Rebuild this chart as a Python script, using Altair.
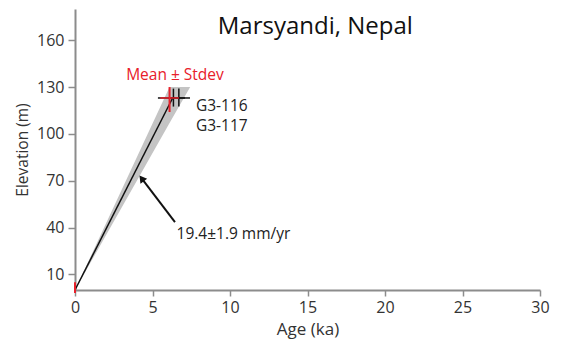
import altair as alt
import pandas as pd

# Uncertainty band (rate 19.4 +/- 1.9 mm/yr), clipped at ~130 m
band_age = [0.0, 6.1, 7.43]
band_top = [0.0, 130.0, 130.0]
band_bottom = [0.0, 107.0, 130.0]

# Best-fit line
line_age = [0.0, 6.3]
line_elev = [0.0, 123.0]

# Samples (black crosses)
sample_age = [6.35, 6.7]
sample_age_lo = [5.35, 6.0]
sample_age_hi = [7.1, 7.42]
sample_elev = [123.0, 123.0]
sample_elev_lo = [117.5, 117.5]
sample_elev_hi = [129.0, 129.0]

# Mean +/- stdev (red)
mean_age = [6.1, 0.0]
mean_age_lo = [5.5, 0.0]
mean_age_hi = [6.7, 0.0]
mean_elev = [123.0, 0.0]
mean_elev_lo = [114.0, -2.0]
mean_elev_hi = [130.0, 5.0]

x_ticks = [0, 5, 10, 15, 20, 25, 30]
y_ticks = [10, 40, 70, 100, 130, 160]

FONT = "Open Sans"
RED = "#e8202a"
TXT = "#222222"

band_df = pd.DataFrame({"age": band_age, "top": band_top, "bottom": band_bottom})
line_df = pd.DataFrame({"age": line_age, "elev": line_elev})
samp_df = pd.DataFrame({"age": sample_age, "alo": sample_age_lo, "ahi": sample_age_hi,
                        "elev": sample_elev, "elo": sample_elev_lo, "ehi": sample_elev_hi})
mean_df = pd.DataFrame({"age": mean_age, "alo": mean_age_lo, "ahi": mean_age_hi,
                        "elev": mean_elev, "elo": mean_elev_lo, "ehi": mean_elev_hi})

xs = alt.Scale(domain=[0, 30], nice=False, zero=False)
ys = alt.Scale(domain=[0, 180], nice=False, zero=False)

x_axis = alt.Axis(values=x_ticks, title="Age (ka)", grid=False, labelFontSize=16,
                  titleFontSize=17, titleFontWeight="normal", labelFont=FONT, titleFont=FONT,
                  labelColor="#333333", titleColor="#333333", domainColor="#8c8c8c",
                  tickColor="#8c8c8c", domainWidth=2, tickWidth=1.5, tickSize=6,
                  labelPadding=3, titlePadding=6, labelFlush=False)
y_axis = alt.Axis(values=y_ticks, title="Elevation (m)", grid=False, labelFontSize=16,
                  titleFontSize=15.5, titleFontWeight="normal", labelFont=FONT, titleFont=FONT,
                  labelColor="#333333", titleColor="#333333", domainColor="#8c8c8c",
                  tickColor="#8c8c8c", domainWidth=2, tickWidth=1.5, tickSize=7,
                  labelPadding=4, titlePadding=6, labelFlush=False)

band = alt.Chart(band_df).mark_area(color="#c4c4c4", opacity=1).encode(
    x=alt.X("age:Q", scale=xs, axis=x_axis),
    y=alt.Y("top:Q", scale=ys, axis=y_axis),
    y2="bottom:Q",
)

line = alt.Chart(line_df).mark_line(color="#111111", strokeWidth=1.5).encode(
    x=alt.X("age:Q", scale=xs), y=alt.Y("elev:Q", scale=ys))

samp_h = alt.Chart(samp_df).mark_rule(color="#111111", strokeWidth=1.5).encode(
    x=alt.X("alo:Q", scale=xs), x2="ahi:Q", y=alt.Y("elev:Q", scale=ys))
samp_v = alt.Chart(samp_df).mark_rule(color="#111111", strokeWidth=1.5).encode(
    x=alt.X("age:Q", scale=xs), y=alt.Y("elo:Q", scale=ys), y2="ehi:Q")

mean_h = alt.Chart(mean_df).mark_rule(color=RED, strokeWidth=1.5, clip=False).encode(
    x=alt.X("alo:Q", scale=xs), x2="ahi:Q", y=alt.Y("elev:Q", scale=ys))
mean_v = alt.Chart(mean_df).mark_rule(color=RED, strokeWidth=2, clip=False).encode(
    x=alt.X("age:Q", scale=xs), y=alt.Y("elo:Q", scale=ys), y2="ehi:Q")

# Annotations
text_df = pd.DataFrame({
    "age": [15.5, 6.45, 7.8, 7.8, 6.55],
    "elev": [168.5, 137.5, 118.0, 105.0, 36.0],
    "label": ["Marsyandi, Nepal", "Mean \u00b1  Stdev", "G3-116", "G3-117", "19.4\u00b11.9 mm/yr"],
    "kind": ["title", "red", "black", "black", "black"],
})

def txt(kind, color, size, align):
    return alt.Chart(text_df[text_df.kind == kind]).mark_text(
        font=FONT, fontSize=size, color=color, align=align, baseline="middle").encode(
        x=alt.X("age:Q", scale=xs), y=alt.Y("elev:Q", scale=ys), text="label:N")

t_title = txt("title", "#111111", 24, "center")
t_red = txt("red", RED, 15.5, "center")
t_black = txt("black", TXT, 15.5, "left")

arrow_df = pd.DataFrame({"age": [6.45], "elev": [43.5], "age2": [4.3], "elev2": [71.5]})
arrow_line = alt.Chart(arrow_df).mark_rule(color="#111111", strokeWidth=2).encode(
    x=alt.X("age:Q", scale=xs), y=alt.Y("elev:Q", scale=ys), x2="age2:Q", y2="elev2:Q")
arrow_head = alt.Chart(arrow_df).mark_point(shape="triangle-up", filled=True, color="#111111",
                                            size=70, angle=323, opacity=1).encode(
    x=alt.X("age2:Q", scale=xs), y=alt.Y("elev2:Q", scale=ys))

chart = alt.layer(band, line, samp_h, samp_v, mean_h, mean_v, arrow_line, arrow_head,
                  t_title, t_red, t_black).properties(
    width=465, height=281,
    autosize=alt.AutoSizeParams(type="none"),
    padding={"left": 67, "top": 1, "right": 13, "bottom": 52},
).configure(background="white").configure_view(stroke=None)

chart.save("out.html", embed_options={"renderer": "svg", "actions": False})
